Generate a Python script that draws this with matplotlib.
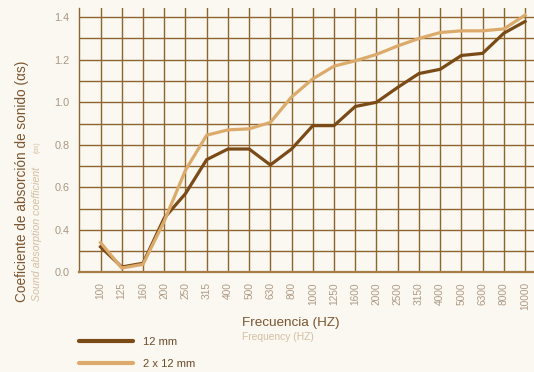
import matplotlib
matplotlib.use("Agg")
import matplotlib.pyplot as plt
from matplotlib.lines import Line2D
import numpy as np

plt.rcParams['font.family'] = ['Liberation Sans', 'DejaVu Sans']

# third-octave band centres (Hz)
freqs = ["100", "125", "160", "200", "250", "315", "400", "500", "630", "800", "1000",
         "1250", "1600", "2000", "2500", "3150", "4000", "5000", "6300", "8000", "10000"]
alpha_12 = [0.24, 0.05, 0.085, 0.455, 0.57, 0.73, 0.78, 0.78, 0.705, 0.78, 0.89,
            0.89, 0.98, 1.0, 1.07, 1.135, 1.155, 1.22, 1.23, 1.325, 1.38]
alpha_2x12 = [0.28, 0.04, 0.075, 0.44, 0.68, 0.845, 0.87, 0.875, 0.905, 1.025, 1.11,
              1.17, 1.195, 1.225, 1.265, 1.30, 1.328, 1.336, 1.336, 1.345, 1.41]
y_labels = [0.0, 0.4, 0.6, 0.8, 1.0, 1.2, 1.4]

BG = "#faf8f1"
DARK = "#7a4a17"
LIGHT = "#dcab6c"
GRID = "#8e6430"


# the 0.0-0.4 band takes the same height as one 0.2 step above it
def fwd(v):
    v = np.asarray(v, dtype=float)
    return np.where(v <= 0.4, v * 0.5, v - 0.2)


def inv(u):
    u = np.asarray(u, dtype=float)
    return np.where(u <= 0.2, u * 2.0, u + 0.2)


fig = plt.figure(figsize=(5.34, 3.72), dpi=100, facecolor=BG)
ax = fig.add_axes([0.1485, 0.268, 0.8515, 0.7097])
ax.set_facecolor(BG)
ax.set_yscale('function', functions=(fwd, inv))

x = np.arange(len(freqs))
ax.plot(x, alpha_12, color=DARK, lw=2.3, zorder=3, solid_joinstyle='miter')
ax.plot(x, alpha_2x12, color=LIGHT, lw=2.3, zorder=3, solid_joinstyle='miter')

ax.set_xlim(-1, 20.42)
ax.set_ylim(0, 1.442)

ax.set_xticks(x)
ax.set_xticklabels(freqs, rotation=90, fontsize=7.3, color="#ae9a84")
ax.set_yticks(y_labels)
ax.set_yticklabels([f"{v:.1f}" for v in y_labels], fontsize=7.8, color="#a89884")
ax.set_yticks([0.2, 0.5, 0.7, 0.9, 1.1, 1.3], minor=True)
ax.tick_params(axis='both', which='both', length=0)
ax.tick_params(axis='y', pad=7)
ax.tick_params(axis='x', pad=7)

ax.grid(True, which='both', color=GRID, lw=1.0)
ax.set_axisbelow(True)
for side in ['top', 'right']:
    ax.spines[side].set_visible(False)
ax.spines['left'].set_color(GRID)
ax.spines['left'].set_linewidth(1.0)
ax.spines['bottom'].set_color("#a87c45")
ax.spines['bottom'].set_linewidth(1.6)

# axis titles
fig.text(241.7 / 534, 1 - 322.7 / 372, "Frecuencia (HZ)", fontsize=9.7, color="#7b5530",
         ha='left', va='center')
fig.text(241.7 / 534, 1 - 336.5 / 372, "Frequency (HZ)", fontsize=7.4, color="#d4bfa2",
         ha='left', va='center')
fig.text(21.7 / 534, 1 - 302 / 372, "Coeficiente de absorción de sonido (αs)",
         fontsize=9.8, color="#7b5530", rotation=90, ha='center', va='bottom')
fig.text(37.3 / 534, 1 - 301 / 372, "Sound absorption coefficient", fontsize=7.65,
         color="#d4bfa2", rotation=90, ha='center', va='bottom', style='italic')
fig.text(37.3 / 534, 1 - 153 / 372, "(αs)", fontsize=4.8,
         color="#d4bfa2", rotation=90, ha='center', va='bottom')

handles = [Line2D([], [], color=DARK, lw=3, solid_capstyle='round'),
           Line2D([], [], color=LIGHT, lw=3, solid_capstyle='round')]
fig.legend(handles, ["12 mm", "2 x 12 mm"], loc='upper left',
           bbox_to_anchor=(78.7 / 534, 1 - 337 / 372), frameon=False,
           fontsize=8, handlelength=4.9, handletextpad=0.9, labelspacing=1.05,
           labelcolor="#6b4a2a", borderpad=0, borderaxespad=0)

fig.savefig("out.png", dpi=100, facecolor=BG)
